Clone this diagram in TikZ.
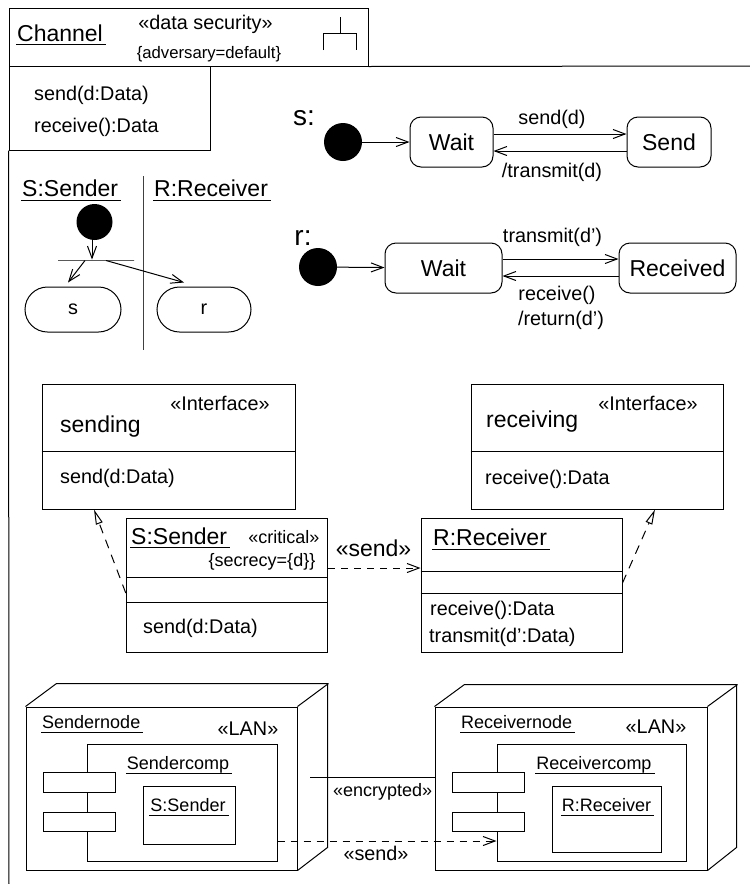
\documentclass[tikz,border=0pt]{standalone}
\usepackage{fontspec}
\setmainfont{Liberation Sans}
\usetikzlibrary{arrows.meta,shapes.misc}
\tikzset{
  line/.style={line width=1pt},
  box/.style 2 args={draw,line width=1pt,inner sep=0pt,fill=white,minimum width=#1pt,minimum height=#2pt},
  state/.style 2 args={box={#1}{#2},rounded corners=11pt},
  pill/.style 2 args={draw,line width=1pt,inner sep=0pt,rounded rectangle,minimum width=#1pt,minimum height=#2pt},
  start/.style={circle,fill=black,inner sep=0pt,minimum size=38pt},
  ftiny/.style={font=\fontsize{16.7}{20}\selectfont},
  fsmall/.style={font=\fontsize{18}{22}\selectfont},
  fmid/.style={font=\fontsize{19.8}{24}\selectfont},
  fbig/.style={font=\fontsize{23}{28}\selectfont},
  fhuge/.style={font=\fontsize{28}{32}\selectfont},
  uline/.style={inner xsep=1pt,inner ysep=#1,text height=.72em,text depth=.22em,
    append after command={(\tikzlastnode.south west) edge[line] ([xshift=2pt]\tikzlastnode.south east)}},
  opentip/.style={-{Straight Barb[length=12pt,width=9pt]},line},
  depend/.style={opentip,dashed,dash pattern=on 7pt off 6pt},
  realize/.style={-{Triangle[open,length=15pt,width=7pt,fill=white]},line,dash pattern=on 9pt off 7pt},
}
\begin{document}
\begin{tikzpicture}[x=1pt,y=-1pt,every node/.style={inner sep=0pt}]
  \useasboundingbox (0,0) rectangle (750,884);
  % package frame
  \node[box={359}{58}] (channel) at (188.5,37) {};
  \node[box={201}{84}] (ops) at (109.5,108) {};
  \coordinate (frameright) at (750,66);
  \coordinate (framebottom) at (9,884);
  \draw[line] (channel.south east) -- (frameright);
  \draw[line] (ops.south west) -- (framebottom);
  \node[fbig,uline=1pt,anchor=west] (channelname) at (16,39) {Channel};
  \node[fmid] (security) at (205.5,24) {«data security»};
  \node[ftiny] (adversary) at (209,54) {\{adversary=default\}};
  \coordinate (treetop) at (340,17);
  \coordinate (treemid) at (340,33);
  \draw[line] (treetop) -- (treemid);
  \draw[line] (323,50) -- (323,33) -- (356,33) -- (356,50);
  \begin{scope}[every node/.style={fmid,anchor=west,inner sep=0pt}]
    \node (opsend) at (34,95) {send(d:Data)};
    \node (opreceive) at (34,127) {receive():Data};
  \end{scope}

  % activity
  \node[fbig,uline=2pt,anchor=west] (lanesender) at (21,194) {S:Sender};
  \node[fbig,uline=2pt,anchor=west] (lanereceiver) at (153,194) {R:Receiver};
  \coordinate (lanetop) at (143,176);
  \coordinate (lanebottom) at (143,350);
  \draw[line,black!75] (lanetop) -- (lanebottom);
  \node[start,minimum size=36pt] (actstart) at (94.5,222) {};
  \node[draw,line width=1pt,inner sep=0pt,minimum width=76pt,minimum height=0pt] (fork) at (96,260) {};
  \node[pill={96}{45},fmid] (pills) at (73,309.5) {s};
  \node[pill={94}{45},fmid] (pillr) at (204,309.5) {r};
  \draw[opentip] (actstart.south -| 92,0) -- (fork.north -| 92,0);
  \draw[opentip] ([xshift=-11pt]fork.south) -- ([shift={(-5pt,4pt)}]pills.north);
  \draw[opentip] ([xshift=10pt]fork.south) -- ([shift={(-20pt,4pt)}]pillr.north);

  % state machines
  \node[fhuge] (slabel) at (304,118) {s:};
  \node[start] (sstart) at (343,142) {};
  \node[state={83}{50},fbig] (swait) at (451.5,142) {Wait};
  \node[state={84}{50},fbig] (ssend) at (669,142) {Send};
  \draw[opentip] (sstart) -- (swait);
  \draw[opentip] ([yshift=8pt]swait.east) to node[above=4.5pt,xshift=-8pt,fmid] {send(d)} ([yshift=8pt]ssend.west);
  \draw[opentip] ([yshift=-9pt]ssend.west) to node[below=11.5pt,xshift=-8pt,fmid] {/transmit(d)} ([yshift=-9pt]swait.east);

  \node[fhuge] (rlabel) at (303,238) {r:};
  \node[start] (rstart) at (318,267) {};
  \node[state={117}{50},fbig] (rwait) at (443.5,268) {Wait};
  \node[state={117}{50},fbig] (rreceived) at (677.5,268) {Received};
  \draw[opentip] (rstart) -- (rwait);
  \draw[opentip] ([yshift=9pt]rwait.east) to node[above=11.5pt,xshift=-8pt,fmid] {transmit(d’)} ([yshift=9pt]rreceived.west);
  \draw[opentip] ([yshift=-8pt]rreceived.west) to ([yshift=-8pt]rwait.east);
  \node[fmid] (rlabelreceive) at (557,295) {receive()};
  \node[fmid] (rlabelreturn) at (561,320) {/return(d’)};

  % classes
  \node[box={253}{125}] (sending) at (168.5,446.5) {};
  \node[box={252}{125}] (receiving) at (597,446.5) {};
  \node[box={201.5}{134}] (sender) at (227,585) {};
  \node[box={201}{134}] (receiver) at (521.5,585) {};
  \draw[line] (sending.west |- 0,451) -- (sending.east |- 0,451);
  \draw[line] (receiving.west |- 0,451) -- (receiving.east |- 0,451);
  \draw[line] (sender.west |- 0,577) -- (sender.east |- 0,577);
  \draw[line] (sender.west |- 0,602) -- (sender.east |- 0,602);
  \draw[line] (receiver.west |- 0,571) -- (receiver.east |- 0,571);
  \draw[line] (receiver.west |- 0,593) -- (receiver.east |- 0,593);
  \node[fmid] (stereosending) at (220,403) {«Interface»};
  \node[fbig,anchor=west] (namesending) at (60,427) {sending};
  \node[fmid,anchor=west] (opsending) at (60,478) {send(d:Data)};
  \node[fmid] (stereoreceiving) at (648,403) {«Interface»};
  \node[fbig,anchor=west] (namereceiving) at (486,422) {receiving};
  \node[fmid,anchor=west] (opreceiving) at (485,479) {receive():Data};
  \node[fbig,uline=1pt,anchor=west] (namesender) at (130,542) {S:Sender};
  \node[fsmall] (critical) at (284,537) {«critical»};
  \node[fsmall] (secrecy) at (262,562) {\{secrecy=\{d\}\}};
  \node[fmid,anchor=west] (opsender) at (143,628) {send(d:Data)};
  \node[fbig,uline=2pt,anchor=west] (namereceiver) at (432,543) {R:Receiver};
  \node[fmid,anchor=west] (opreceiver) at (430,610) {receive():Data};
  \node[fmid,anchor=west] (optransmit) at (429,637) {transmit(d’:Data)};
  \node[fbig] (sendclass) at (373.5,548) {«send»};
  \draw[depend] (sender.east |- 0,568) -- (receiver.west |- 0,568);
  \draw[realize] (sender.west |- 0,593) -- (sending.south -| 94,0);
  \draw[realize] (receiver.east |- 0,583) -- (receiving.south -| 655,0);

  % deployment
  \node[box={271}{163}] (sendernode) at (161.5,788.5) {};
  \node[box={272}{163}] (receivernode) at (571,788.5) {};
  \draw[line] (sendernode.north west) -- ++(31,-23) -- ++(271,0) -- ++(0,164) -- (sendernode.south east);
  \draw[line] (sendernode.north east) -- ++(31,-23);
  \draw[line] (receivernode.north west) -- ++(30,-22) -- ++(272,0) -- ++(0,163) -- (receivernode.south east);
  \draw[line] (receivernode.north east) -- ++(30,-22);
  \node[fsmall,uline=2pt,anchor=west] (namesendernode) at (41,726) {Sendernode};
  \node[fmid] (lansender) at (248,729) {«LAN»};
  \node[fsmall,uline=2pt,anchor=west] (namereceivernode) at (460,726) {Receivernode};
  \node[fmid] (lanreceiver) at (656,727) {«LAN»};
  \node[box={190}{117}] (sendercomp) at (182,802.5) {};
  \node[box={189}{117}] (receivercomp) at (591.5,802.5) {};
  \begin{scope}[every node/.style={box={72}{19.5}}]
    \node (sendport) at (79,782.5) {};
    \node (sendportb) at (79,822) {};
    \node (recvport) at (488,782.5) {};
    \node (recvportb) at (488,822) {};
  \end{scope}
  \node[fsmall,uline=2pt] (namesendercomp) at (178,767) {Sendercomp};
  \node[fsmall,uline=2pt] (namereceivercomp) at (594,767) {Receivercomp};
  \node[box={92}{58}] (senderart) at (189,815) {};
  \node[box={109}{66}] (receiverart) at (606.5,819) {};
  \node[fsmall,uline=2pt] (namesenderart) at (188,809) {S:Sender};
  \node[fsmall,uline=2pt] (namereceiverart) at (606.5,809) {R:Receiver};
  \coordinate (linkstart) at (310,777);
  \draw[line] (linkstart) -- (receivernode.west |- linkstart);
  \node[fsmall,anchor=west] (encrypted) at (333,792) {«encrypted»};
  \draw[depend] (sendercomp.east |- 0,841) -- (receivercomp.west |- 0,841);
  \node[fmid] (senddeploy) at (376,853) {«send»};
\end{tikzpicture}
\end{document}
